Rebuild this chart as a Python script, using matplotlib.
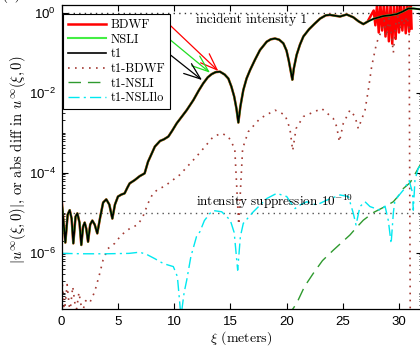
import numpy as np
import matplotlib
matplotlib.use("Agg")
import matplotlib.pyplot as plt
from matplotlib.ticker import LogLocator, FixedLocator, FuncFormatter

plt.rcParams['font.family'] = ['Liberation Sans', 'DejaVu Sans']
plt.rcParams['mathtext.fontset'] = 'cm'

# t1 curve: (xi, log10 |u|)
t1_x = [0.0, 0.34, 0.55, 0.73, 0.9, 1.05, 1.25, 1.41, 1.6, 1.76, 1.92, 2.06, 2.2, 2.36,
        2.55, 2.74, 2.95, 3.18, 3.45, 3.7, 3.98, 4.25, 4.52, 4.75, 5.02, 5.32, 5.61, 5.85,
        6.06, 6.5, 6.95, 7.39, 7.69, 7.9, 8.3, 8.76, 9.1, 9.5, 9.85, 10.24, 10.7, 11.13,
        11.72, 12.2, 12.6, 13.0, 13.35, 13.7, 14.09, 14.5, 14.83, 15.1, 15.35, 15.55, 15.72,
        15.9, 16.16, 16.45, 16.76, 17.2, 17.64, 18.24, 18.6, 18.98, 19.35, 19.72, 20.0, 20.2,
        20.4, 20.52, 20.65, 20.9, 21.2, 21.5, 22.0, 22.5, 23.0, 23.5, 23.87, 24.3, 24.76,
        25.35, 25.94, 26.4, 26.83, 27.2, 27.72, 28.6, 29.2, 29.8, 30.3, 30.83, 31.3, 31.87, 32.0]
t1_lg = [-4.65, -5.75, -5.05, -4.94, -5.15, -5.77, -5.1, -5.02, -5.25, -5.81, -5.35, -5.25,
         -5.4, -5.73, -5.3, -5.2, -5.3, -5.52, -5.1, -4.75, -4.67, -4.8, -5.15, -4.8, -4.6,
         -4.55, -4.52, -4.38, -4.27, -4.19, -4.09, -4.02, -3.73, -3.6, -3.35, -3.21, -3.17,
         -3.1, -2.95, -2.77, -2.6, -2.44, -2.19, -1.95, -1.77, -1.62, -1.54, -1.49, -1.48,
         -1.55, -1.65, -1.85, -2.1, -2.4, -2.75, -2.35, -1.94, -1.65, -1.44, -1.18, -0.94,
         -0.73, -0.67, -0.65, -0.68, -0.77, -0.95, -1.2, -1.5, -1.68, -1.4, -1.06, -0.8, -0.6,
         -0.42, -0.28, -0.15, -0.07, -0.06, -0.08, -0.1, -0.05, -0.12, -0.22, -0.29, -0.23,
         -0.16, -0.09, -0.07, -0.04, 0.02, 0.1, 0.1, 0.08, 0.08]

# BDWF departs from t1 after xi ~ 27.6 (noisy part)
bdwf_noise_x = [27.75, 27.9, 28.05, 28.2, 28.35, 28.5, 28.65, 28.8, 28.95, 29.1, 29.25, 29.4,
                29.55, 29.7, 29.85, 30.0, 30.15, 30.3, 30.45, 30.6, 30.75, 30.9, 31.05, 31.12]
bdwf_noise_lg = [0.05, -0.32, 0.2, -0.5, 0.2, -0.45, 0.2, -0.6, 0.2, -0.72, 0.2, -0.78,
                 0.2, -0.66, 0.2, -0.5, 0.2, -0.45, 0.2, -0.52, 0.2, -0.48, 0.2, -0.4]

# t1 - BDWF
dB_x = [0.0, 0.25, 0.5, 0.75, 1.0, 1.3, 1.55, 1.85, 2.15, 2.5, 2.95, 3.4, 3.69, 4.13, 4.73,
        5.32, 6.06, 6.8, 7.24, 7.69, 8.13, 8.58, 9.17, 10.5, 12.0, 12.76, 13.5, 14.24, 14.83,
        15.4, 15.75, 16.1, 16.6, 17.64, 18.98, 19.87, 20.3, 20.55, 20.85, 21.5, 23.13, 24.16,
        24.46, 24.7, 25.05, 25.64, 26.09, 26.38, 26.98, 27.27, 27.57, 28.0, 28.46, 28.7, 28.9,
        29.1, 29.3, 29.5, 29.7, 29.9, 30.1, 30.3, 30.5, 30.7, 30.9, 31.0]
dB_lg = [-6.45, -7.5, -6.8, -7.5, -6.85, -7.5, -7.0, -7.5, -7.2, -7.26, -6.98, -6.52, -6.19,
         -5.9, -5.77, -5.56, -5.4, -5.3, -5.1, -4.77, -4.52, -4.42, -4.34, -4.06, -3.6, -3.35,
         -3.1, -3.02, -3.1, -3.4, -5.3, -3.4, -2.98, -2.65, -2.44, -2.56, -2.9, -3.45, -2.9,
         -2.6, -2.4, -2.65, -2.85, -3.23, -2.77, -2.44, -2.6, -2.9, -2.44, -1.94, -1.35, -0.77,
         -0.44, -0.2, -0.6, -0.15, -0.5, -1.0, -0.3, -0.1, -0.4, -0.15, -0.3, -0.1, -0.35, -7.6]

# t1 - NSLI
dN_x = [20.1, 20.9, 21.6, 22.38, 23.2, 24.16, 24.9, 25.64, 26.2, 26.83, 27.72, 28.76, 29.49,
        29.9, 30.38, 31.0, 31.5, 32.0]
dN_lg = [-7.6, -7.27, -6.85, -6.52, -6.2, -5.94, -5.75, -5.56, -5.38, -5.19, -5.0, -4.85,
         -4.73, -4.6, -4.4, -4.25, -4.0, -3.75]

# t1 - NSLIlo
dL_x = [0.0, 2.0, 4.0, 6.0, 6.95, 7.6, 8.28, 8.9, 9.35, 9.94, 10.3, 10.62, 10.9, 11.13, 11.5,
        12.0, 12.3, 12.7, 13.2, 13.5, 14.24, 15.0, 15.35, 15.66, 15.9, 16.16, 17.05, 18.24,
        19.13, 20.02, 20.5, 20.76, 21.2, 21.8, 22.68, 23.57, 24.76, 25.5, 25.94, 26.18, 26.53,
        26.98, 27.42, 28.31, 28.76, 29.05, 29.3, 29.5, 29.64, 30.38, 30.9, 31.2, 31.27, 31.42,
        31.7, 32.0]
dL_lg = [-6.02, -6.03, -6.03, -6.02, -5.99, -6.05, -6.15, -6.25, -6.3, -6.35, -6.6, -7.6,
         -7.0, -6.69, -6.1, -5.6, -5.48, -5.2, -5.02, -4.95, -4.98, -5.19, -5.5, -6.44, -5.6,
         -5.27, -4.98, -4.65, -4.52, -4.6, -4.8, -4.9, -4.81, -4.73, -4.81, -4.69, -4.56,
         -4.6, -5.02, -5.31, -4.85, -4.73, -4.85, -4.94, -4.84, -5.2, -5.77, -5.0, -4.69,
         -4.44, -4.2, -4.5, -4.94, -4.19, -3.9, -3.8]

t1_x = np.array(t1_x)
t1_y = 10.0 ** np.array(t1_lg)
keep = t1_x < 27.65
bdwf_x = np.concatenate([t1_x[keep], bdwf_noise_x])
bdwf_y = np.concatenate([t1_y[keep], 10.0 ** np.array(bdwf_noise_lg)])

fig = plt.figure(figsize=(4.2, 3.47), dpi=100)
L, R, T, B = 61.5, 421.5, 5, 309
ax = fig.add_axes([L / 420, 1 - B / 347, (R - L) / 420, (B - T) / 347])

ax.plot(bdwf_x, bdwf_y, color='#ff0000', lw=1.8, label='BDWF')
ax.plot(t1_x, t1_y, color='#44ee44', lw=1.5, label='NSLI')
ax.plot(t1_x, t1_y, color='black', lw=1.2, label='t1')
ax.plot(dB_x, 10.0 ** np.array(dB_lg), color='#a33a33', lw=1.2, ls=(0, (1, 3.2)),
        label='t1-BDWF')
ax.plot(dN_x, 10.0 ** np.array(dN_lg), color='#2f9a2f', lw=1.0, ls=(0, (9, 5)),
        label='t1-NSLI')
ax.plot(dL_x, 10.0 ** np.array(dL_lg), color='#00e8f0', lw=1.0, ls=(0, (8, 3, 1.5, 3)),
        label='t1-NSLIlo')

ax.axhline(1.0, color='#333333', lw=1.0, ls=(0, (1, 3)), zorder=1)
ax.axhline(1e-5, color='#555555', lw=1.0, ls=(0, (1, 3)), zorder=1)

ax.set_yscale('log')
ax.set_xlim(0, 32)
ax.set_ylim(10 ** -7.41, 10 ** 0.1875)

ax.xaxis.set_major_locator(FixedLocator([0, 5, 10, 15, 20, 25, 30]))
ax.yaxis.set_major_locator(FixedLocator([1e-6, 1e-4, 1e-2, 1e0]))
ax.yaxis.set_minor_locator(LogLocator(base=10, subs=np.arange(1, 10), numticks=20))
ax.yaxis.set_major_formatter(FuncFormatter(
    lambda v, p: r'$\mathregular{10^{%d}}$' % int(round(np.log10(v)))))
ax.tick_params(which='both', direction='in', top=True, right=True, labelsize=9.5)
ax.tick_params(which='major', length=4.5, width=0.8)
ax.tick_params(axis='x', which='major', pad=5)
ax.tick_params(axis='y', which='major', pad=4)
ax.tick_params(which='minor', length=2.5, width=0.6)
ax.tick_params(axis='y', which='minor', labelleft=False)
for s in ax.spines.values():
    s.set_linewidth(0.9)

serif = 'cmr10'
ax.set_xlabel(r'$\xi$ (meters)', fontfamily=serif, fontsize=10)
ax.xaxis.set_label_coords(0.5, -0.097)
ax.xaxis.label.set_va('center')
ax.set_ylabel(r'$|u^\infty(\xi,0)|$, or abs diff in $u^\infty(\xi,0)$',
              fontfamily=serif, fontsize=10.5)
ax.yaxis.set_label_coords(-0.122, 0.49)
ax.yaxis.label.set_va('center')

ax.text(12.0, 10 ** -0.19, 'incident intensity 1', fontfamily=serif, fontsize=9.5,
        va='center', ha='left')
ax.text(12.0, 10 ** -4.72, r'intensity suppression 10$^{-10}$', fontfamily=serif,
        fontsize=9.5, va='center', ha='left')

arrows = [((9.47, 0.537), (13.94, 0.0345), 'red'),
          ((9.47, 0.23), (13.2, 0.0313), '#22dd22'),
          ((9.47, 0.097), (12.49, 0.0205), 'black')]
for (x0, y0), (x1, y1), c in arrows:
    ax.annotate('', xy=(x1, y1), xytext=(x0, y0),
                arrowprops=dict(arrowstyle='->,head_length=1.2,head_width=0.45',
                                color=c, lw=0.9, mutation_scale=10,
                                shrinkA=0, shrinkB=0))

leg = ax.legend(loc='upper left', bbox_to_anchor=(63 / 420, 1 - 14 / 347),
                bbox_transform=fig.transFigure, borderaxespad=0, fancybox=False,
                framealpha=1, edgecolor='black', handlelength=3.0, handletextpad=0.4,
                labelspacing=0.2, borderpad=0.4, prop={'family': serif, 'size': 9})
leg.get_frame().set_linewidth(0.8)

fig.text(0.003, 1 - 3 / 347, '(a)', fontfamily=serif, fontsize=11, va='bottom')

fig.savefig('out.png', dpi=100)
